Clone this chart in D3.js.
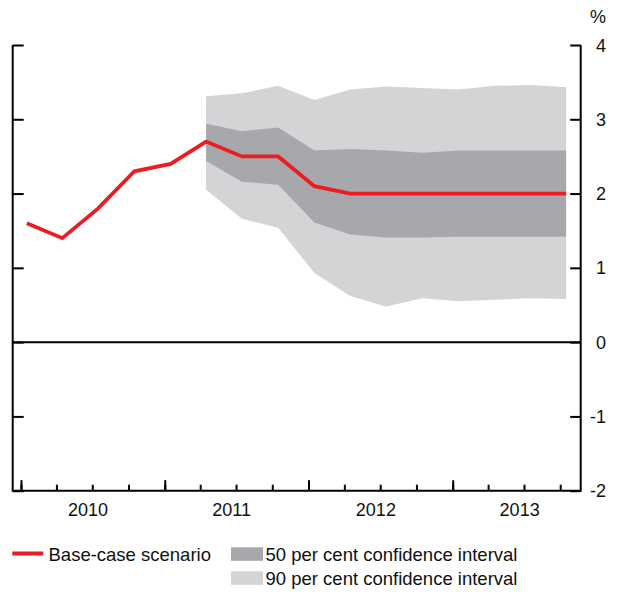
<!DOCTYPE html>
<html>
<head>
<meta charset="utf-8">
<script src="https://cdnjs.cloudflare.com/ajax/libs/d3/7.8.5/d3.min.js"></script>
<style>
  body { margin: 0; background: #fff; }
  svg { display: block; font-family: "Liberation Sans", Arial, sans-serif; }
  text { fill: #111; }
</style>
</head>
<body>
<script>
// quarterly observations / projections
const dates = ['2010-01-16', '2010-04-16', '2010-07-16', '2010-10-16',
  '2011-01-16', '2011-04-16', '2011-07-16', '2011-10-16',
  '2012-01-16', '2012-04-16', '2012-07-16', '2012-10-16',
  '2013-01-16', '2013-04-16', '2013-07-16', '2013-10-16'];
const baseCase = [1.6, 1.4, 1.8, 2.3, 2.4, 2.7, 2.5, 2.5, 2.1, 2.0, 2.0, 2.0, 2.0, 2.0, 2.0, 2.0];

// confidence bands start at 2011 Q2
const bandDates = dates.slice(5);
const ci90Upper = [3.31, 3.35, 3.45, 3.26, 3.40, 3.44, 3.42, 3.40, 3.45, 3.46, 3.43];
const ci50Upper = [2.94, 2.84, 2.89, 2.58, 2.60, 2.58, 2.55, 2.58, 2.58, 2.58, 2.58];
const ci50Lower = [2.44, 2.16, 2.12, 1.61, 1.45, 1.41, 1.41, 1.42, 1.42, 1.42, 1.42];
const ci90Lower = [2.05, 1.66, 1.54, 0.93, 0.62, 0.48, 0.59, 0.55, 0.57, 0.59, 0.58];

const yTicks = [-2, -1, 0, 1, 2, 3, 4];
const yearLabels = ['2010', '2011', '2012', '2013'];

const W = 622, H = 594;
const margin = { t: 45, b: 103.3, l: 12.7, r: 41.3 };

const red = '#ec1c24';
const dark = '#a7a8ab';
const light = '#d3d4d6';

const parse = d3.timeParse('%Y-%m-%d');

const svg = d3.select('body').append('svg')
  .attr('width', W)
  .attr('height', H);

const x = d3.scaleTime()
  .domain([parse('2009-12-11'), parse('2013-11-22')])
  .range([margin.l, W - margin.r]);

const y = d3.scaleLinear()
  .domain([-2, 4])
  .range([H - margin.b, margin.t]);

const pts = dates.map((d, i) => ({ date: parse(d), v: baseCase[i] }));
const band = bandDates.map((d, i) => ({
  date: parse(d), l90: ci90Lower[i], u90: ci90Upper[i], l50: ci50Lower[i], u50: ci50Upper[i]
}));

// bands
svg.append('path')
  .datum(band)
  .attr('fill', light)
  .attr('d', d3.area().x(d => x(d.date)).y0(d => y(d.l90)).y1(d => y(d.u90)));

svg.append('path')
  .datum(band)
  .attr('fill', dark)
  .attr('d', d3.area().x(d => x(d.date)).y0(d => y(d.l50)).y1(d => y(d.u50)));

// zero line
svg.append('line')
  .attr('x1', x.range()[0]).attr('x2', x.range()[1])
  .attr('y1', y(0)).attr('y2', y(0))
  .attr('stroke', '#000').attr('stroke-width', 2);

// base case line
svg.append('path')
  .datum(pts)
  .attr('fill', 'none')
  .attr('stroke', red)
  .attr('stroke-width', 3.8)
  .attr('stroke-linejoin', 'miter')
  .attr('d', d3.line().x(d => x(d.date)).y(d => y(d.v)));

// right axis with labels
const yRight = svg.append('g')
  .attr('transform', `translate(${W - margin.r},0)`)
  .call(d3.axisLeft(y).tickValues(yTicks).tickSize(10.5).tickFormat(''));

// left axis
const yLeft = svg.append('g')
  .attr('transform', `translate(${margin.l},0)`)
  .call(d3.axisRight(y).tickValues(yTicks).tickSize(11).tickFormat(''));

// bottom axis: quarterly minor, yearly major
const xMinor = svg.append('g')
  .attr('transform', `translate(0,${H - margin.b})`)
  .call(d3.axisTop(x).ticks(d3.timeMonth.every(3)).tickSize(6).tickFormat(''));

const xMajor = svg.append('g')
  .attr('transform', `translate(0,${H - margin.b})`)
  .call(d3.axisTop(x).ticks(d3.timeYear.every(1)).tickSize(10.5).tickFormat(''));

[yRight, yLeft, xMinor, xMajor].forEach(g => {
  g.select('.domain').remove();
  g.selectAll('.tick line').attr('stroke', '#000').attr('stroke-width', 2);
});

// frame lines
svg.append('path')
  .attr('fill', 'none')
  .attr('stroke', '#000')
  .attr('stroke-width', 2)
  .attr('d', `M${x.range()[0]},${y(4)}V${y(-2)}H${x.range()[1]}V${y(4)}`);

// y labels
svg.selectAll('.ylab')
  .data(yTicks)
  .enter().append('text')
  .attr('class', 'ylab')
  .attr('x', 606)
  .attr('y', d => y(d) + 6.5)
  .attr('text-anchor', 'end')
  .style('font-size', '18px')
  .text(d => d);

svg.append('text')
  .attr('x', 606)
  .attr('y', 22.5)
  .attr('text-anchor', 'end')
  .style('font-size', '18px')
  .text('%');

// year labels
svg.selectAll('.xlab')
  .data(yearLabels)
  .enter().append('text')
  .attr('class', 'xlab')
  .attr('x', d => x(parse(d + '-06-20')))
  .attr('y', 515.5)
  .attr('text-anchor', 'middle')
  .style('font-size', '18px')
  .text(d => d);

// legend
const leg = svg.append('g');
leg.append('line')
  .attr('x1', 12.3).attr('x2', 43.3)
  .attr('y1', 553.5).attr('y2', 553.5)
  .attr('stroke', red).attr('stroke-width', 4);
leg.append('text')
  .attr('x', 48.5).attr('y', 561)
  .style('font-size', '18.5px')
  .text('Base-case scenario');

const legItems = [
  { c: dark, t: '50 per cent confidence interval' },
  { c: light, t: '90 per cent confidence interval' }
];
const li = leg.selectAll('.li')
  .data(legItems)
  .enter().append('g')
  .attr('transform', (d, i) => `translate(231,${547.3 + i * 24})`);
li.append('rect')
  .attr('width', 32).attr('height', 13.5)
  .attr('fill', d => d.c);
li.append('text')
  .attr('x', 34.5).attr('y', 13.7)
  .style('font-size', '18.5px')
  .text(d => d.t);
</script>
</body>
</html>
